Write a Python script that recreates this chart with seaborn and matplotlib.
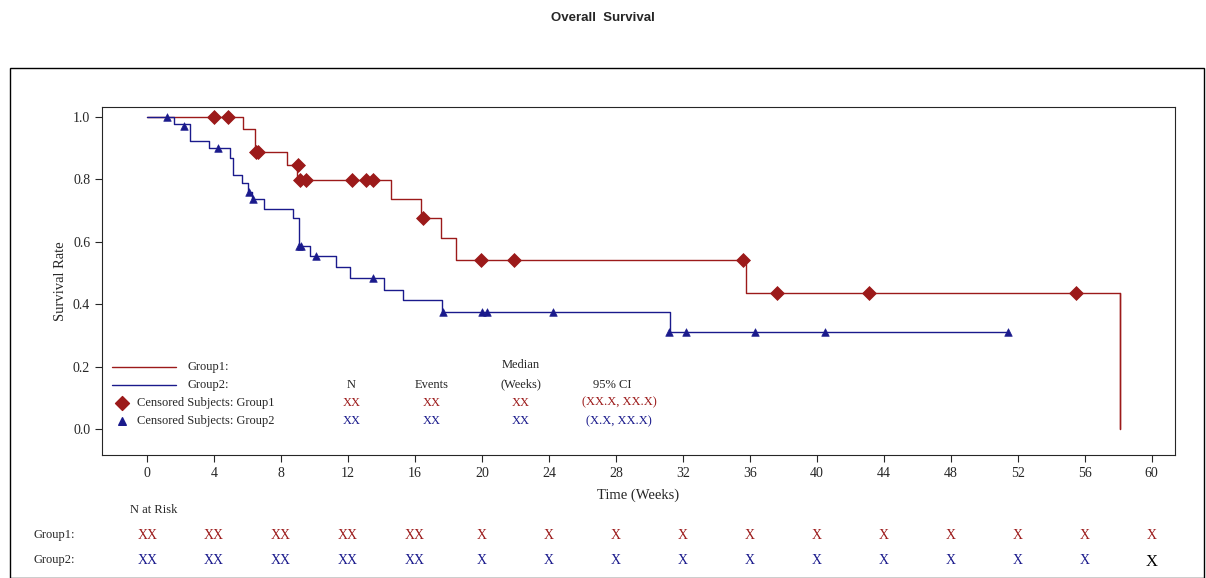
import numpy as np
import pandas as pd
import seaborn as sns
import matplotlib.pyplot as plt
from matplotlib.patches import Rectangle

# ------------------------------------------------------------------
# Kaplan-Meier step data
# ------------------------------------------------------------------
g1_time = [0, 5.7, 6.45, 8.35, 8.95, 14.55, 16.35, 17.55, 18.45, 35.75, 58.1]
g1_surv = [1.0, 0.96, 0.888, 0.846, 0.798, 0.737, 0.676, 0.612, 0.542, 0.436, 0.0]
g1_cens_t = [4.0, 4.8, 6.5, 6.6, 9.0, 9.1, 9.5, 12.25, 13.1, 13.5, 16.5, 19.95, 21.9, 35.6, 37.6, 43.1, 55.5]
g1_cens_s = [1.0, 1.0, 0.888, 0.888, 0.846, 0.798, 0.798, 0.798, 0.798, 0.798, 0.676, 0.542, 0.542, 0.542, 0.436, 0.436, 0.436]

g2_time = [0, 1.6, 2.57, 3.7, 4.95, 5.15, 5.65, 6.05, 6.25, 7.0, 8.7, 9.05, 9.75, 11.3, 12.1,
           14.15, 15.3, 17.6, 31.25, 51.4]
g2_surv = [1.0, 0.979, 0.924, 0.90, 0.868, 0.814, 0.788, 0.76, 0.737, 0.705, 0.676, 0.587, 0.554,
           0.52, 0.485, 0.445, 0.413, 0.375, 0.312, 0.312]
g2_cens_t = [1.17, 2.2, 4.25, 6.1, 6.3, 9.05, 9.2, 10.1, 13.5, 17.7, 20.0, 20.3, 24.25, 31.2, 32.2, 36.3, 40.5, 51.4]
g2_cens_s = [1.0, 0.97, 0.9, 0.76, 0.737, 0.587, 0.587, 0.554, 0.485, 0.375, 0.375, 0.375, 0.375,
             0.312, 0.312, 0.312, 0.312, 0.312]

risk_times = list(range(0, 61, 4))
risk_g1 = ['XX'] * 5 + ['X'] * 11
risk_g2 = ['XX'] * 5 + ['X'] * 11

red = '#9c1a1a'
blue = '#1a1a8c'
sns.set_style('white')
plt.rcParams['font.family'] = ['Liberation Serif', 'DejaVu Serif']

fig = plt.figure(figsize=(12.06, 5.78), dpi=100)
# outer frame
fig.patches.append(Rectangle((10/1206, 0.0), 1194/1206, 1 - 68/578, transform=fig.transFigure,
                             fill=False, edgecolor='black', lw=1))
ax = fig.add_axes([102/1206, 1 - 455/578, (1175-102)/1206, (455-107)/578])

df1 = pd.DataFrame({'t': g1_time, 's': g1_surv})
df2 = pd.DataFrame({'t': g2_time, 's': g2_surv})
sns.lineplot(data=df1, x='t', y='s', drawstyle='steps-post', color=red, lw=1, ax=ax)
sns.lineplot(data=df2, x='t', y='s', drawstyle='steps-post', color=blue, lw=1, ax=ax)
ax.plot([g1_time[-1], g1_time[-1]], [g1_surv[-2], 0], color=red, lw=1)
sns.scatterplot(x=g1_cens_t, y=g1_cens_s, marker='D', s=50, color=red, edgecolor=red, ax=ax, zorder=3)
sns.scatterplot(x=g2_cens_t, y=g2_cens_s, marker='^', s=30, color=blue, edgecolor=blue, ax=ax, zorder=3)

ax.set_xlim(-2.7, 61.4)
ax.set_ylim(-0.083, 1.032)
ax.set_xticks(risk_times)
ax.set_yticks([0, 0.2, 0.4, 0.6, 0.8, 1.0])
ax.set_yticklabels(['0.0', '0.2', '0.4', '0.6', '0.8', '1.0'])
ax.tick_params(axis='both', length=5, width=0.8, direction='out', labelsize=10, bottom=True, left=True)
for sp in ax.spines.values():
    sp.set_linewidth(0.8)
ax.set_xlabel('Time (Weeks)', fontsize=10.5, labelpad=6)
ax.set_ylabel('Survival Rate', fontsize=10.5)

# in-plot legend / summary table
ax.plot([-2.1, 1.7], [0.2, 0.2], color=red, lw=1)
ax.plot([-2.1, 1.7], [0.142, 0.142], color=blue, lw=1)
ax.text(2.4, 0.2, 'Group1:', fontsize=9, va='center')
ax.text(2.4, 0.142, 'Group2:', fontsize=9, va='center')
ax.scatter([-1.5], [0.085], marker='D', s=50, color=red)
ax.scatter([-1.5], [0.025], marker='^', s=30, color=blue)
ax.text(-0.6, 0.085, 'Censored Subjects: Group1', fontsize=9, va='center')
ax.text(-0.6, 0.025, 'Censored Subjects: Group2', fontsize=9, va='center')
cols = [(12.2, 'N'), (17.0, 'Events'), (22.3, '(Weeks)'), (27.8, '95% CI')]
for x, lab in cols:
    ax.text(x, 0.142, lab, fontsize=9, ha='center', va='center')
ax.text(22.3, 0.205, 'Median', fontsize=9, ha='center', va='center')
for yv, c, ci in [(0.085, red, '(XX.X, XX.X)'), (0.025, blue, '(X.X, XX.X)')]:
    for x, lab in [(12.2, 'XX'), (17.0, 'XX'), (22.3, 'XX'), (28.2, ci)]:
        ax.text(x, yv, lab, fontsize=9, ha='center', va='center', color=c)

# number at risk
ax.text(-1.0, -0.26, 'N at Risk', fontsize=9, va='center')
ax.text(-6.8, -0.34, 'Group1:', fontsize=9, va='center')
ax.text(-6.8, -0.42, 'Group2:', fontsize=9, va='center')
for t, a, b in zip(risk_times, risk_g1, risk_g2):
    ax.text(t, -0.34, a, fontsize=10, ha='center', va='center', color=red)
    if t == 60:
        ax.text(t, -0.425, b, fontsize=12, ha='center', va='center', color='black')
    else:
        ax.text(t, -0.42, b, fontsize=10, ha='center', va='center', color=blue)

fig.text(0.5, 1 - 18/578, 'Overall  Survival', fontsize=9.5, fontweight='bold',
         ha='center', va='center', family=['Liberation Sans', 'DejaVu Sans'])

fig.savefig('out.png', dpi=100)
